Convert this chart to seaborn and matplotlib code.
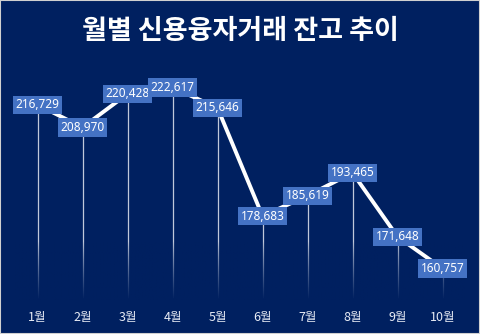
import matplotlib
matplotlib.use("Agg")
import matplotlib.pyplot as plt
import matplotlib.colors as mcolors
import seaborn as sns
import numpy as np
import pandas as pd

months = ["1월", "2월", "3월", "4월", "5월", "6월", "7월", "8월", "9월", "10월"]
balance = [216729, 208970, 220428, 222617, 215646, 178683, 185619, 193465, 171648, 160757]
title = "월별 신용융자거래 잔고 추이"

sns.set_style("dark")
plt.rcParams['font.family'] = ['Noto Sans CJK KR', 'DejaVu Sans']

BG = "#002060"
W, H = 480, 334
fig = plt.figure(figsize=(W / 100, H / 100), dpi=100, facecolor=BG)
fig.patches.append(plt.Rectangle((0, 0), 1, 1, transform=fig.transFigure,
                                 fill=False, edgecolor="#d0d0d0", linewidth=1.5))
ax = fig.add_axes([15 / W, 1 - 300 / H, 450 / W, 240 / H])
ax.set_facecolor(BG)

df = pd.DataFrame({"x": np.arange(1, len(months) + 1), "y": balance})
ymin, ymax = 150000, 232000
xlo, xhi = 0.5, len(months) + 0.5

# drop lines
ax.vlines(df["x"], ymin + 800, df["y"], color="#c0c8da", linewidth=0.9, zorder=1)

# fade-out overlay toward the bottom
rgb = mcolors.to_rgb(BG)
n = 64
alpha = np.linspace(1, 0, n) ** 0.8
grad = np.zeros((n, 2, 4))
grad[..., :3] = rgb
grad[..., 3] = alpha[:, None]
yfade = ymin + 20000
ax.imshow(grad, extent=[xlo, xhi, ymin, yfade], aspect="auto", origin="lower",
          zorder=1.5, interpolation="bilinear")

sns.lineplot(data=df, x="x", y="y", ax=ax, color="white", linewidth=2.8, zorder=2)

for i, (xv, yv) in enumerate(zip(df["x"], df["y"])):
    ax.text(xv, yv, f"{yv:,}", ha="center", va="center", color="white", fontsize=8.5,
            family=["Noto Sans", "DejaVu Sans"], zorder=4 + i * 0.01,
            bbox=dict(boxstyle="square,pad=0.22", facecolor="#4472C4", edgecolor="none"))

ax.set_xlim(xlo, xhi)
ax.set_ylim(ymin, ymax)
ax.set_xticks(df["x"])
ax.set_xticklabels(months, color="#e8ecf5", fontsize=9)
ax.set_yticks([])
ax.tick_params(axis="x", length=0, pad=8)
ax.set_xlabel("")
ax.set_ylabel("")
ax.grid(False)
for s in ax.spines.values():
    s.set_visible(False)

fig.text(0.5, 1 - 31 / H, title, ha="center", va="center", color="white",
         fontsize=19.5, fontweight="bold")

fig.savefig("out.png", dpi=100, facecolor=BG)
